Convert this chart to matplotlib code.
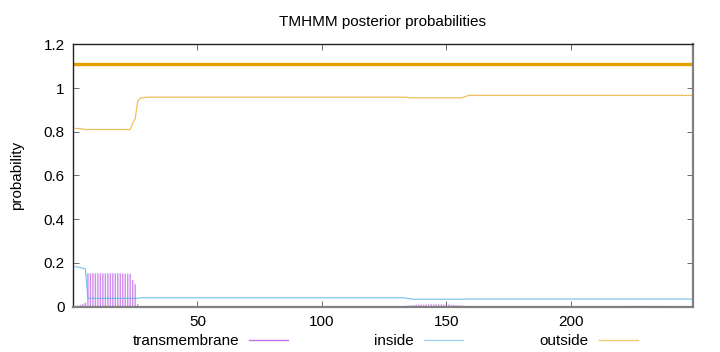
import matplotlib
matplotlib.use('Agg')
import matplotlib.pyplot as plt
from matplotlib.lines import Line2D

plt.rcParams['font.family'] = ['Liberation Sans', 'DejaVu Sans']

# posterior probabilities
seq_len = 249

# transmembrane (impulses), residue -> probability
tm_res = (list(range(1, 27)) + list(range(134, 159)) + list(range(220, 242)))
tm_val = [0.003, 0.004, 0.008, 0.012, 0.018,
          0.152, 0.152, 0.152, 0.152, 0.152, 0.152, 0.152, 0.152, 0.152,
          0.152, 0.152, 0.152, 0.152, 0.152, 0.151, 0.150, 0.150, 0.150,
          0.121, 0.102, 0.011,
          0.004, 0.005, 0.006, 0.007, 0.008, 0.008, 0.009, 0.009, 0.009,
          0.010, 0.010, 0.010, 0.010, 0.010, 0.010, 0.009, 0.009, 0.009,
          0.008, 0.008, 0.007, 0.006, 0.005, 0.004, 0.003,
          0.002, 0.003, 0.003, 0.003, 0.003, 0.003, 0.003, 0.003, 0.003,
          0.003, 0.003, 0.003, 0.003, 0.003, 0.003, 0.003, 0.003, 0.003,
          0.003, 0.003, 0.002, 0.002]

# inside (line)
in_x = [1, 3, 5, 6, 26, 27, 133, 135, 137, 156, 158, 249]
in_y = [0.182, 0.178, 0.172, 0.0375, 0.0375, 0.040, 0.040, 0.036, 0.033,
        0.033, 0.034, 0.034]

# outside (line)
out_x = [1, 3, 5, 6, 23, 24, 25, 26, 27, 29, 30, 134, 135, 156, 157, 159,
         249]
out_y = [0.815, 0.814, 0.810, 0.810, 0.810, 0.840, 0.860, 0.940, 0.953,
         0.957, 0.958, 0.958, 0.955, 0.955, 0.958, 0.966, 0.966]

# predicted topology line (whole sequence outside)
topo_x = [0, seq_len]
topo_y = [1.11, 1.11]

c_tm = '#9400d3'
c_in = '#56b4e9'
c_out = '#e69f00'

fig = plt.figure(figsize=(7.2, 3.52), dpi=100)
ax = fig.add_axes([73 / 720, 1 - 306.5 / 352, (692.5 - 73) / 720,
                   (306.5 - 44.3) / 352])

imp = ax.vlines(tm_res, 0, tm_val, color=c_tm, lw=1.0, alpha=0.45)
imp.set_snap(False)
ax.plot(in_x, in_y, color=c_in, lw=0.9, alpha=0.75)
ax.plot(out_x, out_y, color=c_out, lw=0.9, alpha=0.65)
ax.plot(topo_x, topo_y, color=c_out, lw=2.4, solid_capstyle='butt')

ax.set_xlim(0, seq_len)
ax.set_ylim(0, 1.2)
ax.set_xticks([50, 100, 150, 200])
ax.set_yticks([0, 0.2, 0.4, 0.6, 0.8, 1, 1.2])
ax.set_yticklabels(['0', '0.2', '0.4', '0.6', '0.8', '1', '1.2'])
ax.tick_params(direction='in', length=4, width=0.6, color='#555555',
               top=True, right=True, labelsize=11, pad=6)

for side in ['left', 'top']:
    ax.spines[side].set_color('#222222')
    ax.spines[side].set_linewidth(1.0)
for side in ['right', 'bottom']:
    ax.spines[side].set_color('#808080')
    ax.spines[side].set_linewidth(1.6)

ax.set_title('TMHMM posterior probabilities', fontsize=11, pad=13)
ax.set_ylabel('probability', fontsize=11, labelpad=14)

# key below the plot
labels = ['transmembrane', 'inside', 'outside']
colors = [c_tm, c_in, c_out]
text_right = [239, 414, 589]
for lab, col, xr in zip(labels, colors, text_right):
    fig.text(xr / 720, 1 - 341 / 352, lab, ha='right', va='center',
             fontsize=11)
    fig.add_artist(Line2D([(xr + 10) / 720, (xr + 49) / 720],
                          [1 - 340 / 352, 1 - 340 / 352],
                          color=col, lw=1.0, alpha=0.55,
                          transform=fig.transFigure))

fig.savefig('out.png', dpi=100)
